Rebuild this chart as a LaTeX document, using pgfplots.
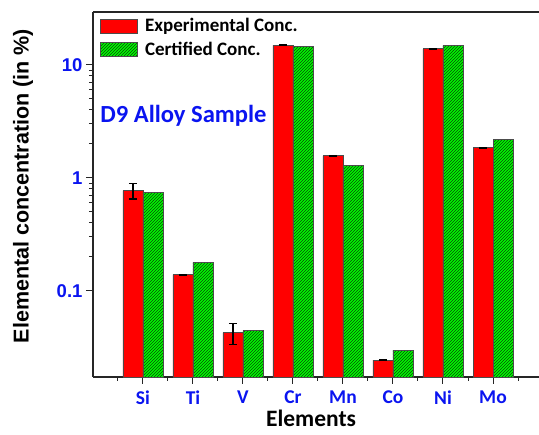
\documentclass[border=0pt]{standalone}
\usepackage{pgfplots}
\pgfplotsset{compat=1.18}
\usetikzlibrary{patterns}
\usepackage{fontspec}
\setmainfont{Carlito}
\newfontfamily\arialf{Liberation Sans}
\definecolor{tblue}{RGB}{10,20,240}
\definecolor{barred}{RGB}{255,0,0}
\definecolor{bargreen}{RGB}{0,250,0}
\definecolor{hatch}{RGB}{10,70,10}
\begin{document}
\begin{tikzpicture}
\begin{axis}[
  scale only axis,
  width=446pt, height=365pt,
  xmin=0, xmax=8.92,
  ymode=log, ymin=0.0173, ymax=29.4,
  log origin=infty,
  axis x line*=box, axis y line*=left,
  axis line style={line width=1.2pt, black!85},
  ybar=0pt, bar width=20pt,
  xtick={1,2,3,4,5,6,7,8},
  xticklabels={Si,Ti,V,Cr,Mn,Co,Ni,Mo},
  minor xtick={0.5,1.5,2.5,3.5,4.5,5.5,6.5,7.5,8.5},
  xtick pos=bottom, ytick pos=left,
  tick align=outside,
  major tick length=7pt, minor tick length=4pt,
  every tick/.style={line width=1pt, black!85},
  ytick={0.1,1,10},
  yticklabels={0.1,1,10},
  xticklabel style={font=\fontsize{19.5}{22}\selectfont\bfseries, text=tblue, yshift=-3pt},
  yticklabel style={font=\arialf\fontsize{18.5}{20}\selectfont\bfseries, text=tblue},
  every axis y label/.style={at={(axis description cs:-0.157,0.523)}, rotate=90, anchor=center},
  every axis x label/.style={at={(axis description cs:0.489,-0.112)}, anchor=center},
  ylabel={\arialf\fontsize{21.5}{24}\selectfont\bfseries Elemental concentration (in \%)},
  xlabel={\fontsize{23.5}{26}\selectfont\bfseries Elements},
  legend style={draw=none, fill=none, at={(axis description cs:0.016,0.988)}, anchor=north west,
    font=\fontsize{19}{22}\selectfont\bfseries, row sep=5pt, inner sep=0pt},
  legend cell align=left,
  legend image code/.code={\draw[#1] (0pt,-7pt) rectangle (37pt,7pt); \path (42pt,0pt);},
  clip=false,
]
\addplot[draw=black!70, line width=0.8pt, fill=barred,
  error bars/.cd, y dir=both, y explicit,
  error bar style={line width=1.1pt, black},
  error mark options={rotate=90, mark size=4pt, line width=1.1pt, black}]
coordinates {
 (1,0.77) +- (0,0.12)
 (2,0.139) +- (0,0.001)
 (3,0.0428) +- (0,0.009)
 (4,14.9) +- (0,0.15)
 (5,1.57) +- (0,0.02)
 (6,0.0244) +- (0,0.0003)
 (7,13.9) +- (0,0.15)
 (8,1.85) +- (0,0.02)
};
\addlegendentry{Experimental Conc.}
\addplot[draw=black!70, line width=0.8pt, fill=bargreen,
  postaction={pattern=north east lines, pattern color=hatch}]
coordinates {
 (1,0.75) (2,0.178) (3,0.0446) (4,14.5) (5,1.29) (6,0.0298) (7,14.8) (8,2.18)
};
\addlegendentry{Certified Conc.}
\node[anchor=base west, text=tblue, font=\fontsize{24.6}{28}\selectfont\bfseries, inner sep=0pt]
  at (axis description cs:0.016,0.696) {D9 Alloy Sample};
\coordinate (sw) at (rel axis cs:0,0);
\coordinate (ne) at (rel axis cs:1,1);
\end{axis}
\pgfresetboundingbox
\path ([shift={(-93pt,-58pt)}]sw) rectangle ([shift={(0pt,12pt)}]ne);
\end{tikzpicture}
\end{document}
